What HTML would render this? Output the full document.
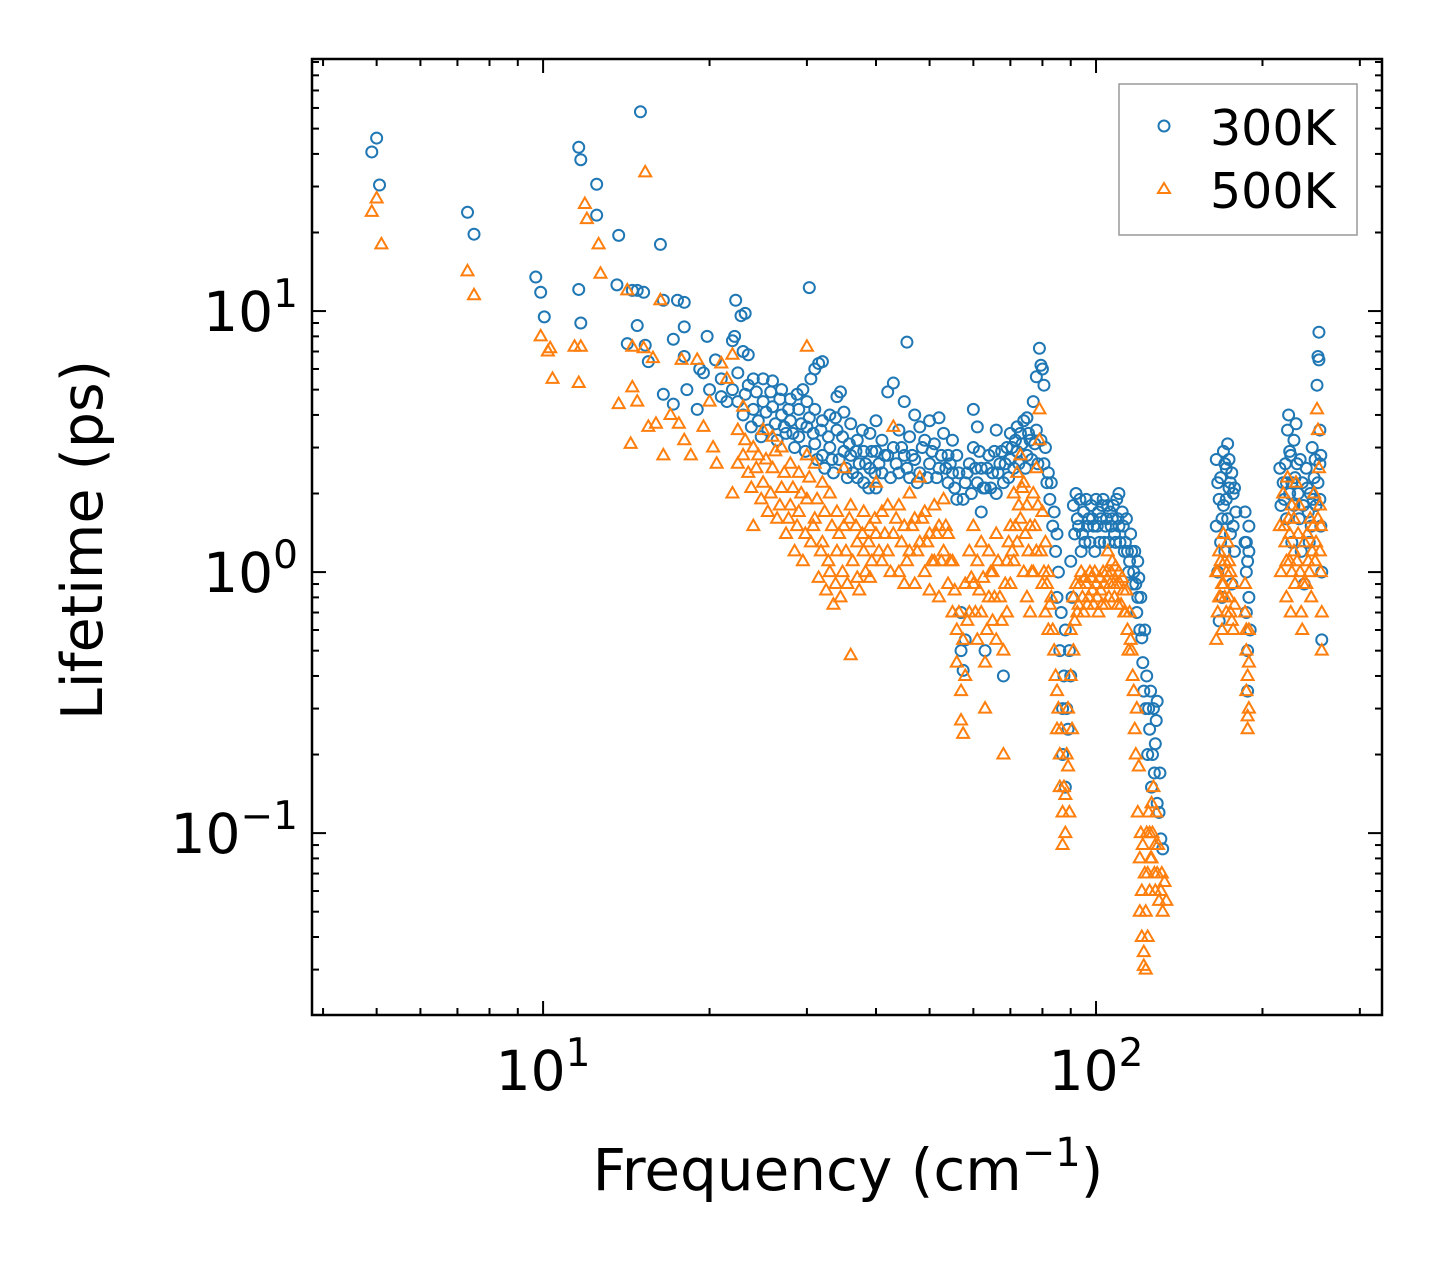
<!DOCTYPE html>
<html><head><meta charset="utf-8"><style>
html,body{margin:0;padding:0;background:#fff;}
svg{display:block;font-family:"DejaVu Sans","Liberation Sans",sans-serif;}
</style></head><body>
<svg id="chart" width="1442" height="1265" xmlns="http://www.w3.org/2000/svg">
<rect width="1442" height="1265" fill="#fff"/>
<g id="marks"></g>
<g id="axes"></g>
<rect x="312" y="59" width="1070" height="956" fill="none" stroke="#000" stroke-width="2.5"/>
<text x="848" y="1190" font-size="58" text-anchor="middle">Frequency (cm<tspan dy="-24" font-size="40">−1</tspan><tspan dy="24">)</tspan></text>
<text transform="translate(102,540) rotate(-90)" font-size="57" text-anchor="middle">Lifetime (ps)</text>
<g>
<rect x="1119" y="84" width="238" height="151" fill="#fff" stroke="#999" stroke-width="1.5"/>
<circle cx="1164" cy="126" r="5.5" fill="none" stroke="#1f77b4" stroke-width="2"/>
<text x="1210" y="145" font-size="49">300K</text>
<polygon points="1164,183 1170,193 1158,193" fill="none" stroke="#ff7f0e" stroke-width="2"/>
<text x="1210" y="208" font-size="49">500K</text>
</g>
</svg>
<script>
const xTickExps = [1, 2];
const yTickExps = [-1, 0, 1];
const xDomain = [3.82, 329];
const yDomain = [0.0201, 92.4];
const pts300 = [[4.9,40.7],[5.0,46],[5.06,30.4],[7.3,23.9],[7.5,19.7],[9.7,13.5],[9.9,11.8],[10.05,9.5],[11.6,42.4],[11.7,38],[11.6,12.1],[11.7,9.0],[12.5,30.6],[12.5,23.3],[13.7,19.5],[15.0,58],[13.6,12.6],[14.5,12],[14.2,7.5],[14.8,12],[15.2,11.8],[14.8,8.8],[15.3,7.4],[15.5,6.4],[16.3,18],[16.5,11],[17.5,11],[18.0,10.8],[17.2,7.8],[18,8.7],[18,6.7],[16.5,4.8],[17.2,4.4],[18.2,5],[19,4.2],[19.2,6],[19.8,8],[20.5,6.5],[20,5],[21,4.7],[21.5,4.5],[22,7.7],[22.2,8],[22.3,11],[22.8,9.6],[23.2,9.8],[23,7],[23.5,6.8],[21,5.5],[19.5,5.8],
[22,5],[22.5,4.5],[23,4],[23.5,5.2],[24,5.5],[24,4.2],[24.5,3.8],[25,5.5],[25,4.5],[25.5,3.5],[26,5.4],[26,4.3],[26.5,3.2],[27,5],[27,4],[27.5,3.4],[28,4.6],[28,3.8],[28.5,3],[29,4.2],[29,3.3],[29.5,5],[30,4.5],[30,3.6],[30.5,5.5],[30.3,12.3],[31,6],[31.5,6.3],[32,6.4],[31,4.2],[31,3.1],[32,3.8],[32,2.8],[33,4],[33,3],[33.5,2.4],[34,4.7],[34,3.5],[34.5,4.9],[35,4.1],[35,2.9],[35.5,2.3],[36,3.7],[36,2.8],[37,3.2],[37,2.3],[38,2.9],[38,2.2],[39,3.4],[39,2.5],[40,3.8],[40,2.9],[40,2.1],[41,3.2],[41,2.4],[42,4.9],[42,2.8],[43,5.3],[43,3],[44,2.4],[44,3.5],[45,4.5],[45,2.8],[45.5,7.6],[46,3.3],[46,2.3],[47,4],[47,2.7],[48,3.6],[48,2.4],[49,3.2],[50,3.8],[50,2.6],[51,3.1],[52,3.9],[52,2.5],[53,3.4],[54,2.8],[54,2.2],[55,3.2],[55,2.4],[56,2.8],[56,1.9],[57,0.7],[57,0.5],[57.5,0.42],[58,0.55],[58,2.2],[59,2.6],[60,3],[60,4.2],[61,2.2],[61,3.6],[62,2.5],[62,1.7],[63,2.1],[63,0.5],[64,2.8],[65,2.4],[66,2],[66,3.5],[67,2.6],[68,2.2],[68,0.4],[69,3],[70,2.7],[70,3.4],[71,2.5],[72,3.6],[72,2.9],[73,3.4],[74,3.8],[75,3.9],[75,2.8],[76,3.2],[77,4.5],[78,3.5],[78,5.6],[79,7.2],[79.5,6.2],[80,6],[80.5,5.2],[81,3],[82,2.4],[83,2.2],[84,1.7],[85,1.4],[85,0.8],[86,0.5],[87,0.3],[87,0.2],[88,0.15],[88,0.6],[89,0.25],[90,0.4],[90,1.1],[91,1.8],[92,2],[93,1.5],[94,1.2],[95,1.7],[96,1.9],[97,1.6],[98,1.8],[99,1.5],[100,1.9],[101,1.7],[102,1.6],[103,1.9],[104,1.5],[105,1.8],[106,1.7],[107,1.6],[108,1.4],[109,1.9],[110,2.0],[110,1.5],[112,1.5],[113,1.3],[114,1.2],[115,1.1],[116,1.2],[117,1.0],[118,0.9],[119,0.8],[119,1.1],[120,0.6],[121,0.56],[122,0.35],[123,0.3],[124,0.2],[125,0.25],[126,0.15],[127,0.3],[128,0.22],[129,0.13],[130,0.12],[131,0.095],[132,0.087],[129,0.32],
[165,2.7],[165,1.5],[166,1.0],[167,0.65],[168,2.3],[168,1.3],[169,0.8],[170,2.9],[170,1.8],[171,1.2],[172,2.5],[173,3.1],[173,1.6],[174,2.1],[175,1.4],[176,2.4],[176,0.9],[177,2.0],[178,1.2],[179,1.7],[186,1.7],[186,1.3],[187,1.0],[187,0.7],[188,0.5],[188,0.35],[189,1.5],[189,0.8],[190,0.6],[215,2.5],[216,1.8],[218,2.2],[220,2.6],[221,1.6],[222,3.5],[223,4.0],[224,2.0],[225,2.8],[226,1.3],[228,3.2],[229,2.3],[230,3.7],[232,2.0],[234,2.7],[235,1.2],[236,2.2],[238,0.9],[240,2.5],[242,1.7],[244,2.0],[245,1.5],[246,3.0],[248,2.3],[250,1.8],[251,5.2],[252,6.7],[253,8.3],[253,6.5],[254,3.5],[254,2.6],[255,1.5],[256,1.0],[256,0.55],[255,2.8]];
const pts300b = [[22.5,5.8],[23.2,4.8],[23.8,3.6],[24.3,4.9],[24.8,3.3],[25.3,4.1],[25.8,4.9],[26.3,3.7],[26.8,4.6],[27.3,3.6],[27.8,4.2],[28.3,3.4],[28.8,4.8],[29.3,3.7],[29.8,2.9],[30.3,3.9],[30.8,3.4],[31.3,2.7],[31.8,3.5],[32.3,2.5],[32.8,3.3],[33.3,2.7],[33.8,3.9],[34.3,2.7],[34.8,3.3],[35.3,2.5],[35.8,3.1],[36.3,2.4],[36.8,2.9],[37.3,2.6],[37.8,3.5],[38.3,2.6],[38.8,2.1],[39.3,2.9],[39.8,2.4],[40.5,2.6],[41.5,2.8],[42.5,2.3],[43.5,2.6],[44.5,3],[45.5,2.5],[46.5,2.8],[47.5,2.2],[48.5,3],[49.5,2.3],[50.5,2.9],[51.5,2.3],[52.5,2.8],[53.5,2.5],[54.5,2.6],[55.5,2.1],[56.5,2.4],[57.5,1.9],[58.5,2.4],[59.5,2],[60.5,2.5],[61.5,2.9],[62.5,2.1],[63.5,2.5],[64.5,2.1],[65.5,2.9],[66.5,2.4],[67.5,2.9],[68.5,2.6],[69.5,2.3],[70.5,3],[71.5,3.2],[72.5,2.6],[73.5,3.1],[74.5,2.5],[75.5,3.4],[76.5,2.7],[77.5,3.1],[78.5,2.6],[79.5,3.2],[80.5,2.6],[81.5,2.2],[82.5,1.9],[83.5,1.5],[84.5,1.2],[85.5,1.0],[86.5,0.7],[87.5,0.4],[88.5,0.3],[89.5,0.5],[90.5,0.8],[91.5,1.4],[92.5,1.6],[93.5,1.9],[94.5,1.4],[95.5,1.3],[96.5,1.5],[97.5,1.3],[98.5,1.6],[99.5,1.2],[100.5,1.5],[101.5,1.3],[102.5,1.8],[103.5,1.3],[104.5,1.6],[105.5,1.3],[106.5,1.5],[107.5,1.8],[108.5,1.3],[109.5,1.6],[110.5,1.3],[111.5,1.7],[112.5,1.2],[113.5,1.6],[114.5,1.0],[115.5,1.4],[116.5,0.9],[117.5,1.2],[118.5,0.7],[119.5,0.95],[120.5,0.8],[121.5,0.45],[122.5,0.6],[123.5,0.4],[124.5,0.3],[125.5,0.35],[126.5,0.2],[127.5,0.17],[128.5,0.27],[130.5,0.17],[166,2.2],[167,1.9],[169,1.6],[171,2.6],[172,1.9],[174,2.7],[175,2.2],[177,1.5],[178,2.1],[187,1.3],[188,1.1],[189,1.2],[219,1.9],[221,2.2],[224,2.9],[226,2.2],[228,1.8],[231,2.6],[233,1.6],[237,1.8],[241,2.1],[243,1.3],[247,1.9],[249,2.7],[252,2.2],[254,1.9]];
const pts500 = [[4.9,24],[5.0,27],[5.1,18],[7.3,14.2],[7.5,11.5],[9.9,8],[10.2,7],[10.3,7.2],[10.4,5.5],[11.4,7.3],[11.7,7.3],[11.6,5.3],[11.9,25.7],[12.0,22.5],[12.6,18],[12.7,13.9],[13.7,4.4],[14.2,12],[14.4,3.1],[14.5,7.3],[14.5,5.1],[14.8,4.5],[15.2,7.2],[15.3,34],[15.8,6.6],[15.5,3.6],[16,3.7],[16.3,11],[16.5,2.8],[17,4],[17.6,3.7],[17.8,6.5],[18,3.2],[18.5,2.8],[19,6.5],[19.5,3.6],[20,4.5],[20.3,3],[20.6,2.6],[21,6.3],[21.5,5.5],[22,2],[22,6.8],[22.5,3.5],[23,2.8],[23,4.3],[23.5,2.4],[24,3],[24,1.5],[24.5,2.8],[25,3.5],[25,2.2],[25.5,1.7],[26,3.3],[26,2.5],[26.5,1.6],[27,3],[27,2.1],[27.5,1.4],[28,2.6],[28,1.8],[28.5,1.2],[29,2.4],[29,1.7],[29.5,1.1],[30,7.3],[30,2.8],[30,1.9],[30.5,1.3],[31,2.6],[31,1.6],[31.5,0.95],[32,2.2],[32,1.3],[32.5,0.85],[33,2],[33,1.0],[33.5,0.75],[34,1.7],[34,1.2],[34.5,0.8],[35,2.5],[35,1.5],[35.5,0.9],[36,0.48],[36,1.8],[37,1.3],[37,0.95],[38,1.7],[38,1.2],[39,1.5],[39,0.95],[40,2.2],[40,1.4],[41,1.1],[41,1.7],[42,1.8],[42,1.2],[43,3.6],[43,1.4],[44,1.8],[44,1.0],[45,1.5],[45,0.9],[46,2.0],[46,1.2],[47,1.6],[47,0.9],[48,1.3],[48,2.3],[49,1.0],[49,1.7],[50,1.4],[50,0.85],[51,1.8],[51,1.1],[52,1.5],[52,0.8],[53,1.2],[53,1.9],[54,0.9],[54,1.4],[55,0.7],[55,1.1],[56,0.6],[56,0.45],[57,0.35],[57,0.27],[57.5,0.24],[58,0.4],[58,0.9],[59,1.2],[59,0.7],[60,1.5],[60,0.9],[61,0.55],[61,1.1],[62,0.7],[62,1.3],[63,0.45],[63,0.3],[64,0.8],[64,1.2],[65,0.65],[65,1.0],[66,0.55],[66,1.4],[67,0.8],[68,0.5],[68,0.2],[69,1.1],[69,0.7],[70,1.5],[70,0.9],[71,2.0],[71,1.1],[72,2.4],[72,1.3],[73,2.8],[73,1.6],[74,2.2],[74,1.0],[75,1.8],[75,0.8],[76,1.5],[76,0.7],[77,2.0],[77,1.0],[78,2.5],[78,1.2],[79,4.2],[79,3.2],[80,1.7],[80,0.9],[81,1.3],[81,0.7],[82,1.0],[82,0.6],[83,0.8],[84,0.5],[85,0.35],[85,0.25],[86,0.2],[86,0.15],[87,0.12],[87,0.09],[88,0.1],[88,0.14],[89,0.18],[89,0.3],[90,0.4],[90,0.6],[91,0.8],[91,0.5],[92,0.9],[93,0.75],[94,1.0],[95,0.7],[96,0.9],[97,0.8],[98,0.95],[99,0.75],[100,0.9],[101,0.7],[102,0.85],[103,1.0],[104,0.75],[105,1.2],[106,0.9],[107,1.1],[108,0.8],[109,0.9],[110,1.0],[111,0.75],[112,0.85],[113,0.7],[114,0.6],[115,0.7],[116,0.5],[117,0.35],[118,0.2],[119,0.12],[120,0.08],[120,0.05],[121,0.06],[121,0.04],[122,0.031],[122,0.035],[123,0.03],[123,0.05],[124,0.07],[124,0.04],[125,0.1],[125,0.06],[126,0.13],[126,0.08],[127,0.15],[128,0.09],[128,0.06],[129,0.07],[130,0.055],[131,0.06],[132,0.05],[133,0.065],[134,0.055],
[165,1.0],[165,0.55],[166,0.7],[167,1.2],[168,0.8],[169,0.6],[170,1.4],[170,0.9],[171,1.1],[172,0.7],[173,1.3],[174,0.8],[175,1.0],[176,0.65],[177,0.9],[178,0.75],[186,0.9],[186,0.7],[187,0.5],[187,0.35],[188,0.28],[188,0.25],[189,0.45],[189,0.6],[215,1.5],[216,1.0],[218,2.0],[220,1.3],[221,0.8],[222,2.3],[223,1.6],[224,1.1],[225,0.7],[226,1.8],[228,1.2],[229,0.9],[230,2.2],[232,1.4],[234,1.0],[235,0.7],[236,0.6],[238,1.3],[240,0.9],[242,1.1],[244,1.6],[245,0.8],[246,1.2],[248,2.0],[250,1.3],[251,4.2],[252,3.5],[253,2.5],[254,1.8],[255,1.0],[256,0.7],[256,0.5],[255,1.5]];
const pts500b = [[22.5,2.6],[23.2,3.2],[23.8,2.1],[24.3,2.5],[24.8,1.9],[25.3,2.7],[25.8,2.0],[26.3,2.9],[26.8,1.8],[27.3,2.4],[27.8,1.6],[28.3,2.1],[28.8,1.5],[29.3,2.0],[29.8,1.4],[30.3,2.3],[30.8,1.5],[31.3,1.9],[31.8,1.2],[32.3,1.7],[32.8,1.1],[33.3,1.5],[33.8,0.9],[34.3,1.4],[34.8,1.0],[35.3,1.2],[35.8,1.6],[36.3,1.1],[36.8,1.5],[37.3,0.85],[37.8,1.4],[38.3,1.0],[38.8,1.3],[39.3,1.1],[39.8,1.6],[40.5,1.2],[41.5,1.4],[42.5,1.0],[43.5,1.6],[44.5,1.3],[45.5,1.1],[46.5,1.5],[47.5,1.2],[48.5,1.6],[49.5,1.3],[50.5,1.1],[51.5,1.4],[52.5,1.1],[53.5,1.5],[54.5,1.1],[55.5,0.85],[56.5,0.7],[57.5,0.55],[58.5,0.65],[59.5,0.95],[60.5,0.7],[61.5,0.85],[62.5,0.95],[63.5,0.6],[64.5,1.0],[65.5,0.8],[66.5,1.1],[67.5,0.65],[68.5,0.9],[69.5,1.3],[70.5,1.2],[71.5,1.5],[72.5,1.8],[73.5,2.1],[74.5,1.4],[75.5,1.2],[76.5,1.0],[77.5,1.5],[78.5,1.8],[79.5,1.2],[80.5,1.0],[81.5,0.9],[82.5,0.75],[83.5,0.6],[84.5,0.4],[85.5,0.3],[86.5,0.25],[87.5,0.15],[88.5,0.2],[89.5,0.12],[90.5,0.25],[91.5,0.65],[92.5,0.7],[93.5,0.9],[94.5,0.8],[95.5,0.95],[96.5,0.75],[97.5,1.0],[98.5,0.85],[99.5,1.0],[100.5,0.8],[101.5,0.95],[102.5,0.75],[103.5,0.9],[104.5,1.0],[105.5,0.8],[106.5,1.0],[107.5,0.9],[108.5,1.05],[109.5,0.75],[110.5,0.9],[111.5,0.95],[112.5,0.7],[113.5,0.85],[114.5,0.5],[115.5,0.55],[116.5,0.4],[117.5,0.25],[118.5,0.3],[119.5,0.18],[120.5,0.1],[121.5,0.09],[122.5,0.07],[123.5,0.1],[124.5,0.12],[125.5,0.08],[126.5,0.1],[127.5,0.07],[128.5,0.12],[129.5,0.09],[131.5,0.07],[166,1.0],[167,0.8],[168,1.1],[169,0.9],[171,0.8],[172,1.0],[174,1.1],[175,0.7],[177,0.6],[187,0.6],[188,0.4],[189,0.3],[219,1.5],[221,1.1],[224,1.4],[226,1.0],[228,1.6],[231,1.1],[233,1.8],[237,0.9],[241,1.4],[243,1.0],[247,1.5],[249,1.1],[252,1.6],[254,1.2]];

const NS = "http://www.w3.org/2000/svg";
const L = 312, R = 1382, T = 59, B = 1015;
function xs(v){ const a=Math.log10(xDomain[0]), b=Math.log10(xDomain[1]); return L + (Math.log10(v)-a)/(b-a)*(R-L); }
function ys(v){ const a=Math.log10(yDomain[0]), b=Math.log10(yDomain[1]); return B - (Math.log10(v)-a)/(b-a)*(B-T); }
function mk(tag, attrs){ const e=document.createElementNS(NS, tag); for(const k in attrs) e.setAttribute(k, attrs[k]); return e; }
const marks = document.getElementById('marks');
const axes = document.getElementById('axes');

function drawCircle(p){
  const c = mk('circle', {cx: xs(p[0]), cy: ys(p[1]), r: 5.5, fill: 'none', stroke: '#1f77b4', 'stroke-width': 2});
  
  
  marks.appendChild(c);
}
function drawTri(p){
  const x = xs(p[0]), y = ys(p[1]);
  const t = mk('polygon', {points: `${x},${y-6.5} ${x+6},${y+4} ${x-6},${y+4}`, fill: 'none', stroke: '#ff7f0e', 'stroke-width': 2});
  
  
  marks.appendChild(t);
}
pts300.forEach(drawCircle);
pts300b.forEach(drawCircle);
pts500.forEach(drawTri);
pts500b.forEach(drawTri);

function line(x1,y1,x2,y2,name){
  const l = mk('line', {x1, y1, x2, y2, stroke: '#000', 'stroke-width': 2});
  
  
  axes.appendChild(l);
}
for (let e = 0; e <= 2; e++) {
  for (let m = 1; m <= 9; m++) {
    const v = m * Math.pow(10, e);
    if (v < xDomain[0] || v > xDomain[1]) continue;
    const x = xs(v), len = (m === 1) ? 14 : 7;
    line(x, B, x, B - len, 'x-tick');
    line(x, T, x, T + len, 'x-tick-top');
  }
}
for (let e = -2; e <= 1; e++) {
  for (let m = 1; m <= 9; m++) {
    const v = m * Math.pow(10, e);
    if (v < yDomain[0] || v > yDomain[1]) continue;
    const y = ys(v), len = (m === 1) ? 14 : 7;
    line(L, y, L + len, y, 'y-tick');
    line(R, y, R - len, y, 'y-tick-right');
  }
}
xTickExps.forEach(e => {
  const t = mk('text', {x: xs(Math.pow(10, e)), y: 1090, 'font-size': 55, 'text-anchor': 'middle'});
  
  
  t.innerHTML = `10<tspan dy="-24" font-size="39">${e}</tspan>`;
  axes.appendChild(t);
});
yTickExps.forEach(e => {
  const t = mk('text', {x: 298, y: ys(Math.pow(10, e)) + 20, 'font-size': 55, 'text-anchor': 'end'});
  
  
  const s = e < 0 ? '−' + (-e) : '' + e;
  t.innerHTML = `10<tspan dy="-24" font-size="39">${s}</tspan>`;
  axes.appendChild(t);
});
</script>
</body></html>
